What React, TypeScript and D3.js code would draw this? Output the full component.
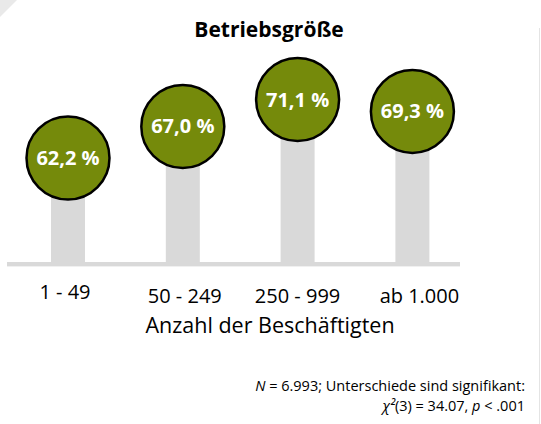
import React from "react";
import * as d3 from "d3";

const categories = ["1 - 49", "50 - 249", "250 - 999", "ab 1.000"];
const values = [62.2, 67.0, 71.1, 69.3];
const valueLabels = ["62,2 %", "67,0 %", "71,1 %", "69,3 %"];

const title = "Betriebsgröße";
const axisTitle = "Anzahl der Beschäftigten";

const W = 541;
const H = 424;
const baseY = 264;
const font = "'Open Sans', 'Noto Sans', sans-serif";

// small nudges of the category labels, as in the original layout
const tickShift = [-3, 2, 0, 7];

const App = () => {
  const x = d3.scaleBand().domain(categories).range([10.6, 469.8]).padding(0);
  const y = d3.scaleLinear().domain([46.07, 76.07]).range([baseY, 66.9]);
  const barW = 34;
  const r = 41.5;
  const cxOf = (c: string) => x(c)! + x.bandwidth() / 2;

  return (
    <div style={{ position: "fixed", left: 0, top: 0 }}>
      <svg width={W} height={H} style={{ display: "block", background: "#fff" }}>
        <polygon points="0,0 17,0 0,17" fill="#e9e9e9" />
        <line x1={539.5} x2={539.5} y1={28} y2={H} stroke="#e4e4e4" strokeWidth={1} />

        <text x={269} y={37} textAnchor="middle" fontFamily={font} fontWeight="bold" fontSize={21} fill="#000">
          {title}
        </text>

        {/* stems */}
        {categories.map((c, i) => (
          <rect key={"b" + c} x={cxOf(c) - barW / 2} y={y(values[i])} width={barW}
            height={baseY - y(values[i])} fill="#d9d9d9" />
        ))}
        <rect x={7} y={262} width={453} height={4.4} fill="#d9d9d9" />

        {/* bubbles */}
        {categories.map((c, i) => {
          const cx = cxOf(c);
          const cy = y(values[i]);
          return (
            <g key={"c" + c}>
              <circle cx={cx} cy={cy} r={r} fill="#758a0b" stroke="#000" strokeWidth={2.5} />
              <text x={cx} y={cy} dy="0.35em" textAnchor="middle" fontFamily={font}
                fontWeight="bold" fontSize={20} fill="#fff">
                {valueLabels[i]}
              </text>
            </g>
          );
        })}

        {/* category labels */}
        {categories.map((c, i) => (
          <text key={"t" + c} x={cxOf(c) + tickShift[i]} y={i === 0 ? 299 : 303} textAnchor="middle"
            fontFamily={font} fontSize={20} fill="#000">
            {c}
          </text>
        ))}
        <text x={270} y={333} textAnchor="middle" fontFamily={font} fontSize={21.5} fill="#000">
          {axisTitle}
        </text>

        {/* footnote */}
        <text x={525} y={391} textAnchor="end" fontFamily={font} fontSize={14.5} fill="#000">
          <tspan fontStyle="italic">N</tspan> = 6.993; Unterschiede sind signifikant:
        </text>
        <text x={525} y={411} textAnchor="end" fontFamily={font} fontSize={14.5} fill="#000">
          <tspan fontStyle="italic">χ²</tspan>(3) = 34.07, <tspan fontStyle="italic">p</tspan> &lt; .001
        </text>
      </svg>
    </div>
  );
};

export default App;
